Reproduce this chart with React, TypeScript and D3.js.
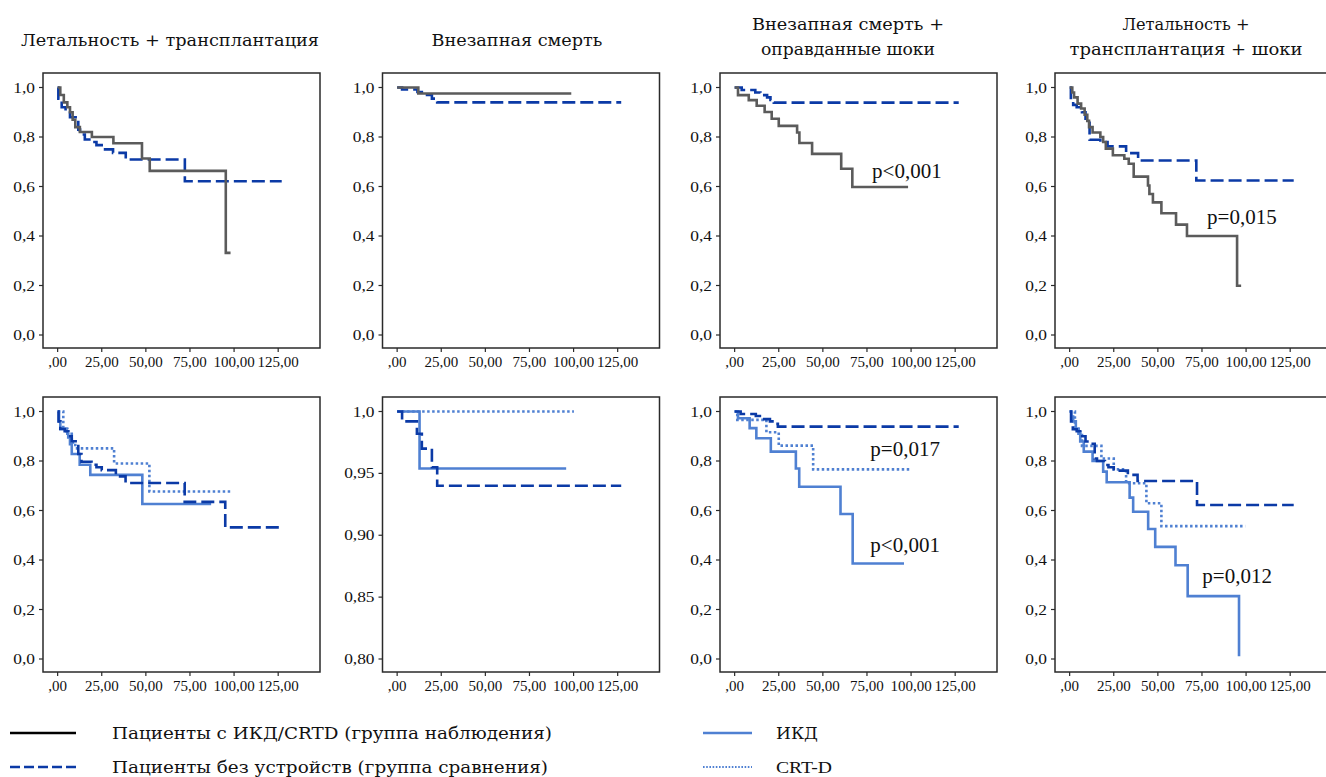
import React from 'react';
import * as d3 from 'd3';

type Pt = [number, number];

// ---------- text / ticks ----------
const panelTitles: string[][] = [
  ['Летальность + трансплантация'],
  ['Внезапная смерть'],
  ['Внезапная смерть +', 'оправданные шоки'],
  ['Летальность +', 'трансплантация + шоки'],
];
const xTickValues = [0, 25, 50, 75, 100, 125];
const xTickLabels = [',00', '25,00', '50,00', '75,00', '100,00', '125,00'];
const yTickValues = [0, 0.2, 0.4, 0.6, 0.8, 1.0];
const yTickLabels = ['0,0', '0,2', '0,4', '0,6', '0,8', '1,0'];
const yTickValuesZoom = [0.8, 0.85, 0.9, 0.95, 1.0];
const yTickLabelsZoom = ['0,80', '0,85', '0,90', '0,95', '1,0'];

const legendLabels = [
  'Пациенты с ИКД/CRTD (группа наблюдения)',
  'Пациенты без устройств (группа сравнения)',
  'ИКД',
  'CRT-D',
];

// ---------- survival curves: [time, survival] ----------
// Top row: observation group (ICD/CRTD) vs no device
const obsA: Pt[] = [[0, 1], [1.5, 0.97], [3.5, 0.94], [5.5, 0.92], [7, 0.9], [8.5, 0.87], [10, 0.84], [12.6, 0.82], [19.4, 0.8], [31.6, 0.775], [47.8, 0.713], [52.2, 0.663], [95.3, 0.332], [98, 0.332]];
const noDevA: Pt[] = [[0, 1], [0.4, 0.955], [2.3, 0.92], [4.5, 0.905], [7, 0.88], [11.7, 0.83], [12.7, 0.81], [15.4, 0.79], [19.2, 0.78], [22, 0.767], [25.8, 0.75], [31.4, 0.736], [38.6, 0.709], [72.1, 0.621], [127, 0.621]];

const obsB: Pt[] = [[0, 1], [12, 0.976], [98.7, 0.976]];
const noDevB: Pt[] = [[0, 1], [2.8, 0.992], [11.5, 0.982], [14, 0.97], [19.7, 0.955], [22.7, 0.94], [127, 0.94]];

const obsC: Pt[] = [[0, 1], [1.9, 0.969], [8, 0.949], [12.5, 0.926], [17, 0.901], [21, 0.874], [25, 0.845], [35.4, 0.818], [36.7, 0.776], [43.9, 0.732], [60.4, 0.672], [66.7, 0.598], [98.3, 0.598]];
const noDevC: Pt[] = [[0, 1], [4, 0.99], [11.7, 0.98], [14.6, 0.969], [18.4, 0.96], [20.3, 0.95], [22.2, 0.939], [127, 0.939]];

const obsD: Pt[] = [[0, 1], [1.5, 0.98], [2.5, 0.96], [4.5, 0.935], [6.5, 0.915], [8.5, 0.89], [10, 0.865], [11, 0.84], [13, 0.818], [17.4, 0.8], [19, 0.78], [20.5, 0.753], [24.5, 0.726], [31, 0.712], [33.5, 0.692], [36.3, 0.64], [44.4, 0.604], [45.2, 0.57], [47.2, 0.536], [52, 0.492], [60.3, 0.446], [66.5, 0.4], [94.9, 0.199], [97.2, 0.199]];
const noDevD: Pt[] = [[0, 1], [0.7, 0.949], [2, 0.93], [4, 0.92], [7, 0.9], [9, 0.874], [11.3, 0.789], [17.4, 0.78], [21.5, 0.762], [32, 0.735], [38.8, 0.705], [71.8, 0.624], [127, 0.624]];

// Bottom row: ICD vs CRT-D vs no device
const noDevE: Pt[] = [[0, 1], [0.5, 0.96], [1.5, 0.929], [4, 0.92], [6, 0.9], [8, 0.88], [11.7, 0.828], [13.5, 0.797], [19.2, 0.785], [22, 0.775], [25, 0.763], [33, 0.738], [38.5, 0.711], [72, 0.635], [95, 0.532], [127, 0.532]];
const icdE: Pt[] = [[0, 1], [0.8, 0.96], [1.5, 0.93], [5, 0.92], [6, 0.895], [7, 0.868], [8, 0.828], [12.5, 0.785], [18.5, 0.744], [48, 0.626], [87, 0.626]];
const crtdE: Pt[] = [[0, 1], [3.2, 0.93], [5.5, 0.91], [8, 0.875], [10, 0.851], [32, 0.79], [52, 0.677], [99, 0.677]];

const noDevF: Pt[] = [[0, 1], [2.8, 0.992], [11.2, 0.982], [14, 0.97], [19.7, 0.955], [22.7, 0.94], [127, 0.94]];
const icdF: Pt[] = [[0, 1], [12.7, 0.954], [95.8, 0.954]];
const crtdF: Pt[] = [[0, 1], [100.2, 1]];

const noDevG: Pt[] = [[0, 1], [3.4, 0.99], [12, 0.982], [15.5, 0.969], [20, 0.96], [22.5, 0.95], [24.5, 0.939], [127, 0.939]];
const icdG: Pt[] = [[0, 1], [1.9, 0.973], [8.5, 0.933], [12.3, 0.892], [20.5, 0.838], [34.7, 0.77], [36.6, 0.696], [60, 0.586], [66.9, 0.386], [96, 0.386]];
const crtdG: Pt[] = [[0, 1], [1.5, 0.966], [18, 0.916], [25, 0.862], [44.5, 0.766], [99.8, 0.766]];

const noDevH: Pt[] = [[0, 1], [0.8, 0.96], [1.8, 0.928], [4, 0.92], [6, 0.9], [9, 0.879], [12, 0.87], [14.2, 0.81], [15.5, 0.8], [20, 0.784], [22, 0.775], [25, 0.761], [33, 0.744], [38.5, 0.719], [72.2, 0.622], [127, 0.622]];
const icdH: Pt[] = [[0, 1], [1, 0.98], [2, 0.96], [3.5, 0.93], [5, 0.91], [6, 0.879], [8, 0.838], [13, 0.8], [19, 0.757], [21, 0.714], [34, 0.652], [36, 0.595], [44.5, 0.525], [48.5, 0.453], [60, 0.379], [66.9, 0.254], [96, 0.011]];
const crtdH: Pt[] = [[0, 1], [3, 0.93], [6, 0.905], [7, 0.861], [18, 0.81], [25, 0.766], [32, 0.71], [43.5, 0.629], [52, 0.537], [99.5, 0.537]];

// p-value annotations [time, survival, text]
const pTopC: [number, number, string][] = [[77.9, 0.633, 'p<0,001']];
const pTopD: [number, number, string][] = [[77.9, 0.447, 'p=0,015']];
const pBotG: [number, number, string][] = [[76.9, 0.821, 'p=0,017'], [76.9, 0.432, 'p<0,001']];
const pBotH: [number, number, string][] = [[75.2, 0.307, 'p=0,012']];

// ---------- styles / layout ----------
type Kind = 'obs' | 'noDev' | 'icd' | 'crtd';
const GRAY = '#5b5b5b';
const NAVY = '#0b3aa6';
const LIGHT = '#4f80d2';
const styles: Record<Kind, { stroke: string; dash?: string; width: number }> = {
  obs: { stroke: GRAY, width: 2.6 },
  noDev: { stroke: NAVY, dash: '13,5', width: 2.6 },
  icd: { stroke: LIGHT, width: 2.6 },
  crtd: { stroke: LIGHT, dash: '2.5,2.5', width: 2.6 },
};

const W = 1326;
const H = 777;
const colLefts = [43, 382.5, 720, 1055];
const rowTops = [73, 397];
const PW = 277;
const PH = 275;
const titleCenters = [170, 517, 848, 1186];
const titleWidths = [[298], [171], [192, 174], [127, 233]];
const LATIN = "'Liberation Serif', 'Times New Roman', serif";
const CYR = "'DejaVu Serif', 'Liberation Serif', serif";

interface PanelSpec {
  row: number;
  col: number;
  zoomY?: boolean;
  series: { data: Pt[]; kind: Kind }[];
  notes: [number, number, string][];
}

const panels: PanelSpec[] = [
  { row: 0, col: 0, series: [{ data: noDevA, kind: 'noDev' }, { data: obsA, kind: 'obs' }], notes: [] },
  { row: 0, col: 1, series: [{ data: noDevB, kind: 'noDev' }, { data: obsB, kind: 'obs' }], notes: [] },
  { row: 0, col: 2, series: [{ data: noDevC, kind: 'noDev' }, { data: obsC, kind: 'obs' }], notes: pTopC },
  { row: 0, col: 3, series: [{ data: noDevD, kind: 'noDev' }, { data: obsD, kind: 'obs' }], notes: pTopD },
  { row: 1, col: 0, series: [{ data: crtdE, kind: 'crtd' }, { data: icdE, kind: 'icd' }, { data: noDevE, kind: 'noDev' }], notes: [] },
  { row: 1, col: 1, zoomY: true, series: [{ data: crtdF, kind: 'crtd' }, { data: icdF, kind: 'icd' }, { data: noDevF, kind: 'noDev' }], notes: [] },
  { row: 1, col: 2, series: [{ data: crtdG, kind: 'crtd' }, { data: icdG, kind: 'icd' }, { data: noDevG, kind: 'noDev' }], notes: pBotG },
  { row: 1, col: 3, series: [{ data: crtdH, kind: 'crtd' }, { data: icdH, kind: 'icd' }, { data: noDevH, kind: 'noDev' }], notes: pBotH },
];

function FitText({ x, y, size, len, anchor, family, children }: { x: number; y: number; size: number; len: number; anchor?: string; family?: string; children: React.ReactNode }) {
  return (
    <text
      x={x}
      y={y}
      fontSize={size}
      textAnchor={anchor || 'start'}
      textLength={len}
      lengthAdjust="spacingAndGlyphs"
      fill="#111"
      fontFamily={family || CYR}
    >
      {children}
    </text>
  );
}

function Panel({ spec }: { spec: PanelSpec }) {
  const left = colLefts[spec.col];
  const top = rowTops[spec.row];
  const x = d3.scaleLinear().domain([-8.3, 148.7]).range([left, left + PW]);
  const y = d3
    .scaleLinear()
    .domain(spec.zoomY ? [0.8, 1.0] : [0, 1])
    .range([top + 262, top + 14.5]);
  const line = d3
    .line<Pt>()
    .x((d) => x(d[0]))
    .y((d) => y(d[1]))
    .curve(d3.curveStepAfter);
  const yVals = spec.zoomY ? yTickValuesZoom : yTickValues;
  const yLabs = spec.zoomY ? yTickLabelsZoom : yTickLabels;
  const bottom = top + PH;
  const clipId = `clip-${spec.row}-${spec.col}`;
  return (
    <g>
      <defs>
        <clipPath id={clipId}>
          <rect x={left} y={top} width={PW} height={PH} />
        </clipPath>
      </defs>
      <rect x={left} y={top} width={PW} height={PH} fill="#fff" />
      <g clipPath={`url(#${clipId})`}>
        {spec.series.map((s, i) => {
          const st = styles[s.kind];
          return (
            <path
              key={i}
              d={line(s.data) || ''}
              fill="none"
              stroke={st.stroke}
              strokeWidth={st.width}
              strokeDasharray={st.dash}
              strokeLinejoin="miter"
            />
          );
        })}
      </g>
      <rect x={left} y={top} width={PW} height={PH} fill="none" stroke="#2a2a2a" strokeWidth={1.5} />
      {yVals.map((v, i) => (
        <g key={'y' + i}>
          <line x1={left - 4} x2={left} y1={y(v)} y2={y(v)} stroke="#2a2a2a" strokeWidth={1.2} />
          <text
            transform={`translate(${left - 8},${y(v) + 5}) scale(1.12,1)`}
            fontSize={15.5}
            textAnchor="end"
            fill="#111"
            fontFamily={LATIN}
          >
            {yLabs[i]}
          </text>
        </g>
      ))}
      {xTickValues.map((v, i) => (
        <g key={'x' + i}>
          <line x1={x(v)} x2={x(v)} y1={bottom} y2={bottom + 4} stroke="#2a2a2a" strokeWidth={1.2} />
          <text x={x(v)} y={bottom + 19} fontSize={15} textAnchor="middle" fill="#111" fontFamily={LATIN}>
            {xTickLabels[i]}
          </text>
        </g>
      ))}
      {spec.notes.map((n, i) => (
        <text key={'n' + i} x={x(n[0])} y={y(n[1])} fontSize={21} fill="#111" fontFamily={LATIN}>
          {n[2]}
        </text>
      ))}
    </g>
  );
}

export default function App() {
  React.useEffect(() => {
    document.body.style.margin = '0';
    document.body.style.overflow = 'hidden';
  }, []);

  const TS = 16.5;
  return (
    <svg
      width={W}
      height={H}
      viewBox={`0 0 ${W} ${H}`}
      style={{ display: 'block', position: 'absolute', left: 0, top: 0, background: '#fff' }}
    >
      <rect width={W} height={H} fill="#fff" />
      {panelTitles.map((lines, i) =>
        lines.length === 1 ? (
          <FitText key={i} x={titleCenters[i]} y={46} size={TS} len={titleWidths[i][0]} anchor="middle">
            {lines[0]}
          </FitText>
        ) : (
          <g key={i}>
            <FitText x={titleCenters[i]} y={30} size={TS} len={titleWidths[i][0]} anchor="middle">
              {lines[0]}
            </FitText>
            <FitText x={titleCenters[i]} y={55} size={TS} len={titleWidths[i][1]} anchor="middle">
              {lines[1]}
            </FitText>
          </g>
        )
      )}
      {panels.map((p, i) => (
        <Panel key={i} spec={p} />
      ))}
      {/* legend */}
      <g>
        <line x1={10} x2={76} y1={733} y2={733} stroke="#000" strokeWidth={2.6} />
        <FitText x={112} y={739} size={TS} len={440}>
          {legendLabels[0]}
        </FitText>
        <line x1={10} x2={76} y1={767} y2={767} stroke={NAVY} strokeWidth={2.6} strokeDasharray="10,4" />
        <FitText x={112} y={773} size={TS} len={436}>
          {legendLabels[1]}
        </FitText>
        <line x1={703} x2={752} y1={733} y2={733} stroke={LIGHT} strokeWidth={2.6} />
        <FitText x={776} y={739} size={TS} len={42}>
          {legendLabels[2]}
        </FitText>
        <line x1={703} x2={752} y1={767} y2={767} stroke={LIGHT} strokeWidth={2.2} strokeDasharray="1.6,1.6" />
        <FitText x={776} y={773} size={17.5} len={56} family={LATIN}>
          {legendLabels[3]}
        </FitText>
      </g>
    </svg>
  );
}
